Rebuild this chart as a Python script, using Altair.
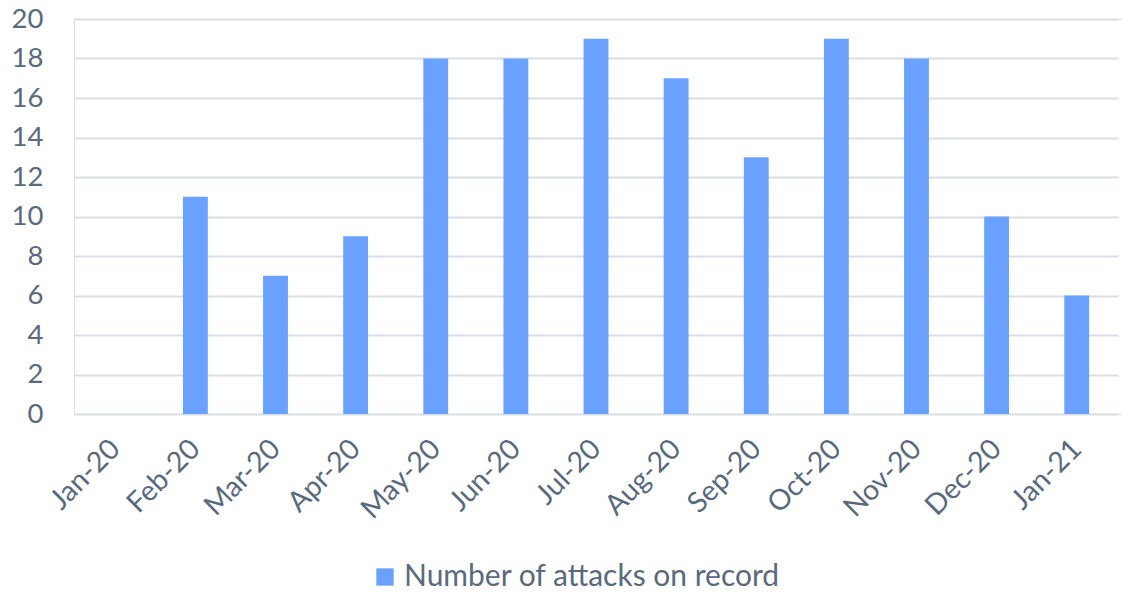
import altair as alt
import pandas as pd

# Monthly counts of recorded attacks
months = ["Jan-20", "Feb-20", "Mar-20", "Apr-20", "May-20", "Jun-20", "Jul-20",
          "Aug-20", "Sep-20", "Oct-20", "Nov-20", "Dec-20", "Jan-21"]
attacks = [0, 11, 7, 9, 18, 18, 19, 17, 13, 19, 18, 10, 6]
series_name = "Number of attacks on record"

df = pd.DataFrame({"month": months, "attacks": attacks, "series": series_name})

FONT = "Lato"
TEXT = "#5a6a7c"
GRID = "#d9dde4"
BAR = "#6aa1fe"

chart = (
    alt.Chart(df)
    .mark_bar(color=BAR)
    .encode(
        x=alt.X(
            "month:N",
            sort=months,
            title=None,
            # bands occupy the left 1044 px; gridlines run on to the edge
            scale=alt.Scale(paddingInner=0.69, paddingOuter=0.36, range=[0, 1044]),
            axis=alt.Axis(
                labelAngle=-45,
                labelAlign="right",
                labelBaseline="middle",
                labelFont=FONT,
                labelFontSize=28.5,
                labelColor=TEXT,
                labelPadding=30,
                ticks=False,
                grid=False,
                domain=False,
            ),
        ),
        y=alt.Y(
            "attacks:Q",
            title=None,
            scale=alt.Scale(domain=[0, 20], nice=False),
            axis=alt.Axis(
                values=list(range(0, 21, 2)),
                labelFont=FONT,
                labelFontSize=27.5,
                labelColor=TEXT,
                labelPadding=31,
                ticks=False,
                domain=False,
                gridColor=GRID,
                gridWidth=2,
            ),
        ),
        fill=alt.Fill(
            "series:N",
            scale=alt.Scale(range=[BAR]),
            legend=alt.Legend(
                title=None,
                orient="none",
                legendX=296,
                legendY=543,
                symbolType="square",
                symbolSize=300,
                symbolStrokeWidth=0,
                labelFont=FONT,
                labelFontSize=30,
                labelColor=TEXT,
                labelLimit=700,
            ),
        ),
    )
    .properties(
        width=1048,
        height=395,
        padding={"left": 74, "top": 19, "right": 0, "bottom": 187},
        autosize=alt.AutoSizeParams(type="none"),
    )
    .configure_view(stroke="transparent")
    .configure(background="white")
)

chart.save("out.html", embed_options={"renderer": "svg", "actions": False})
